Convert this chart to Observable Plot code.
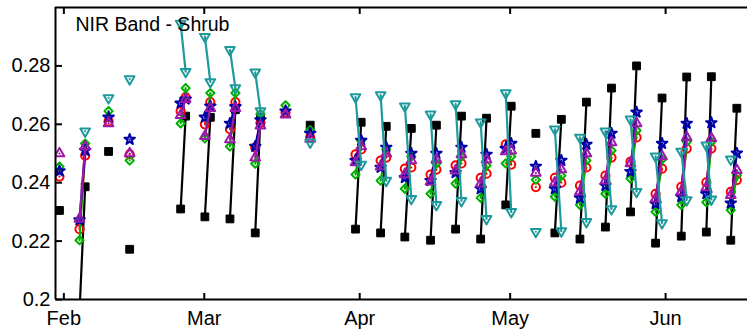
<!DOCTYPE html>
<html>
<head>
<meta charset="utf-8">
<script src="https://cdn.jsdelivr.net/npm/d3@7"></script>
<script src="https://cdn.jsdelivr.net/npm/@observablehq/plot@0.6"></script>
<style>
  html, body { margin: 0; padding: 0; background: white; }
</style>
</head>
<body>
<div id="chart"></div>
<script>
// Observation times (UTC) and the group each belongs to (pairs are joined by lines)
const obsTimes = [
  "2009-01-31T03:00Z",
  "2009-02-04T03:00Z", "2009-02-05T06:00Z",
  "2009-02-09T22:00Z",
  "2009-02-14T03:00Z",
  "2009-02-24T07:00Z", "2009-02-25T07:00Z",
  "2009-03-01T03:00Z", "2009-03-02T05:00Z",
  "2009-03-06T03:00Z", "2009-03-07T05:00Z",
  "2009-03-11T04:00Z", "2009-03-12T05:00Z",
  "2009-03-17T05:00Z",
  "2009-03-22T03:00Z",
  "2009-03-31T04:00Z", "2009-04-01T07:00Z",
  "2009-04-05T04:00Z", "2009-04-06T07:00Z",
  "2009-04-10T00:00Z", "2009-04-11T07:00Z",
  "2009-04-15T03:00Z", "2009-04-16T07:00Z",
  "2009-04-20T03:00Z", "2009-04-21T07:00Z",
  "2009-04-25T03:00Z", "2009-04-26T07:00Z",
  "2009-04-30T03:00Z", "2009-05-01T05:00Z",
  "2009-05-06T03:00Z",
  "2009-05-09T22:00Z", "2009-05-11T05:00Z",
  "2009-05-14T22:00Z", "2009-05-16T05:00Z",
  "2009-05-20T00:00Z", "2009-05-21T05:00Z",
  "2009-05-25T00:00Z", "2009-05-26T05:00Z",
  "2009-05-30T00:00Z", "2009-05-31T07:00Z",
  "2009-06-04T03:00Z", "2009-06-05T05:00Z",
  "2009-06-09T03:00Z", "2009-06-10T03:00Z",
  "2009-06-14T00:00Z", "2009-06-15T05:00Z"
];
const groupIds = ["A","B","B","C","D","E","E","F","F","G","G","H","H","I","J","K","K","L","L","M","M","N","N","O","O","P","P","Q","Q","R","S","S","T","T","U","U","V","V","W","W","X","X","Y","Y","Z","Z"];

// Series values (null = no observation)
const blackVals = [0.2305, 0.196, 0.2386, 0.2507, 0.2172, 0.2310, 0.2628, 0.2283, 0.2624, 0.2276, 0.2650, 0.2228, 0.2625, null, 0.2597, 0.2241, 0.2607, 0.2228, 0.2593, 0.2214, 0.2586, 0.2203, 0.2597, 0.2241, 0.2628, 0.2207, 0.2621, 0.2324, 0.2662, 0.2569, 0.2228, 0.2617, 0.2207, 0.2676, 0.2248, 0.2724, 0.2300, 0.2800, 0.2193, 0.2690, 0.2217, 0.2762, 0.2231, 0.2763, 0.2203, 0.2655];
const redVals = [0.2421, 0.2241, 0.2493, 0.2610, 0.2497, 0.2645, 0.2693, 0.2600, 0.2676, 0.2583, 0.2676, 0.2521, 0.2605, 0.2640, 0.2555, 0.2497, 0.2514, 0.2476, 0.2486, 0.2448, 0.2452, 0.2428, 0.2445, 0.2459, 0.2466, 0.2417, 0.2431, 0.2531, 0.2462, 0.2385, 0.2417, 0.2400, 0.2390, 0.2452, 0.2424, 0.2486, 0.2472, 0.2555, 0.2362, 0.2448, 0.2386, 0.2517, 0.2401, 0.2517, 0.2369, 0.2409];
const greenVals = [0.2455, 0.2203, 0.2534, 0.2645, 0.2476, 0.2603, 0.2724, 0.2552, 0.2707, 0.2524, 0.2707, 0.2465, 0.2635, 0.2665, 0.2580, 0.2428, 0.2545, 0.2407, 0.2514, 0.2379, 0.2490, 0.2362, 0.2466, 0.2397, 0.2490, 0.2348, 0.2459, 0.2466, 0.2490, 0.2410, 0.2352, 0.2424, 0.2324, 0.2476, 0.2362, 0.2510, 0.2414, 0.2579, 0.2300, 0.2480, 0.2324, 0.2540, 0.2333, 0.2540, 0.2306, 0.2425];
const magentaVals = [0.2500, 0.2276, 0.2524, 0.2603, 0.2500, 0.2631, 0.2686, 0.2559, 0.2655, 0.2548, 0.2655, 0.2486, 0.2595, 0.2633, 0.2550, 0.2469, 0.2524, 0.2455, 0.2500, 0.2428, 0.2476, 0.2403, 0.2479, 0.2441, 0.2497, 0.2397, 0.2479, 0.2507, 0.2510, 0.2433, 0.2400, 0.2445, 0.2369, 0.2500, 0.2407, 0.2538, 0.2466, 0.2603, 0.2345, 0.2490, 0.2369, 0.2555, 0.2384, 0.2552, 0.2357, 0.2443];
const blueVals = [0.2440, 0.2272, 0.2510, 0.2624, 0.2548, 0.2672, 0.2686, 0.2624, 0.2662, 0.2603, 0.2660, 0.2524, 0.2615, 0.2645, 0.2569, 0.2476, 0.2545, 0.2452, 0.2521, 0.2417, 0.2500, 0.2407, 0.2500, 0.2434, 0.2521, 0.2379, 0.2497, 0.2517, 0.2534, 0.2456, 0.2379, 0.2476, 0.2348, 0.2531, 0.2390, 0.2569, 0.2438, 0.2641, 0.2328, 0.2534, 0.2352, 0.2603, 0.2362, 0.2605, 0.2330, 0.2501];
const cyanVals = [null, null, 0.2576, 0.2690, 0.2755, 0.2945, 0.2780, 0.2900, 0.2745, 0.2855, 0.2724, 0.2778, 0.2645, null, 0.2538, 0.2693, 0.2462, 0.2700, 0.2407, 0.2662, 0.2345, 0.2634, 0.2324, 0.2669, 0.2338, 0.2607, 0.2276, 0.2707, 0.2300, 0.2232, 0.2583, 0.2234, 0.2555, 0.2266, 0.2576, 0.2310, 0.2617, 0.2369, 0.2490, 0.2262, 0.2507, 0.2341, 0.2528, 0.2343, 0.2480, null];

const monthTicks = ["2009-02-01", "2009-03-01", "2009-04-01", "2009-05-01", "2009-06-01"];
const yTicks = [0.2, 0.22, 0.24, 0.26, 0.28];
const xDomain = ["2009-01-30T08:00Z", "2009-06-17T08:00Z"];
const titleText = "NIR Band - Shrub";

// downward triangle symbol
const triangleDown = {
  draw(context, size) {
    const y = Math.sqrt(size / (Math.sqrt(3) * 3));
    context.moveTo(0, y * 2);
    context.lineTo(-Math.sqrt(3) * y, -y);
    context.lineTo(Math.sqrt(3) * y, -y);
    context.closePath();
  }
};

const seriesDefs = [
  {name: "black",   vals: blackVals,   color: "#000000", symbol: "square",   r: 4.4, filled: true},
  {name: "red",     vals: redVals,     color: "#ff0000", symbol: "circle",   r: 4.1},
  {name: "green",   vals: greenVals,   color: "#00b000", symbol: "diamond2", r: 3.7},
  {name: "blue",    vals: blueVals,    color: "#0000a8", symbol: "star",     r: 3.3},
  {name: "magenta", vals: magentaVals, color: "#9b18a8", symbol: "triangle", r: 3.6},
  {name: "cyan",    vals: cyanVals,    color: "#1f9a9c", symbol: triangleDown, r: 3.6}
];

const parse = s => new Date(s);
const xd = xDomain.map(parse);
const mt = monthTicks.map(s => new Date(s + "T00:00Z"));

const seriesMarks = seriesDefs.flatMap(def => {
  const rows = obsTimes.map((t, i) => ({t: parse(t), g: groupIds[i], v: def.vals[i]}))
    .filter(d => d.v != null);
  return [
    Plot.line(rows, {x: "t", y: "v", z: "g", stroke: def.color, strokeWidth: 2.2, clip: true}),
    Plot.dot(rows, {
      x: "t", y: "v", symbol: def.symbol, r: def.r,
      stroke: def.color, strokeWidth: def.filled ? 1 : 2,
      fill: def.filled ? def.color : "none", strokeLinejoin: "round", clip: true
    })
  ];
});

const chart = Plot.plot({
  width: 747,
  height: 330,
  marginLeft: 55,
  marginRight: 0,
  marginTop: 7,
  marginBottom: 31,
  style: {fontFamily: "'Liberation Sans', Arial, sans-serif", background: "white", color: "black"},
  x: {type: "utc", domain: xd},
  y: {domain: [0.2, 0.3]},
  marks: [
    // y labels and inward ticks
    Plot.axisY({ticks: yTicks, anchor: "left", tickSize: 0, tickPadding: 5, fontSize: 20, tickFormat: d3.format("~g"), label: null}),
    Plot.axisY({ticks: yTicks, anchor: "right", frameAnchor: "left", tickSize: 6, strokeWidth: 2, fill: "none", label: null}),
    // x labels and inward ticks on bottom and top
    Plot.axisX({ticks: mt, anchor: "bottom", tickSize: 0, tickPadding: 11, fontSize: 20, tickFormat: d3.utcFormat("%b"), label: null}),
    Plot.axisX({ticks: mt, anchor: "top", frameAnchor: "bottom", tickSize: 7, strokeWidth: 2, fill: "none", label: null}),
    Plot.axisX({ticks: mt, anchor: "bottom", frameAnchor: "top", tickSize: 7, strokeWidth: 2, fill: "none", label: null}),
    ...seriesMarks,
    // frame (left, top, bottom)
    Plot.ruleY([0.2, 0.3], {stroke: "black", strokeWidth: 2}),
    Plot.ruleX([xd[0]], {stroke: "black", strokeWidth: 2}),
    Plot.text([titleText], {frameAnchor: "top-left", dx: 20, dy: 10, lineAnchor: "top", textAnchor: "start", fontSize: 19.5, fill: "black"})
  ]
});
document.getElementById("chart").appendChild(chart);
</script>
</body>
</html>
